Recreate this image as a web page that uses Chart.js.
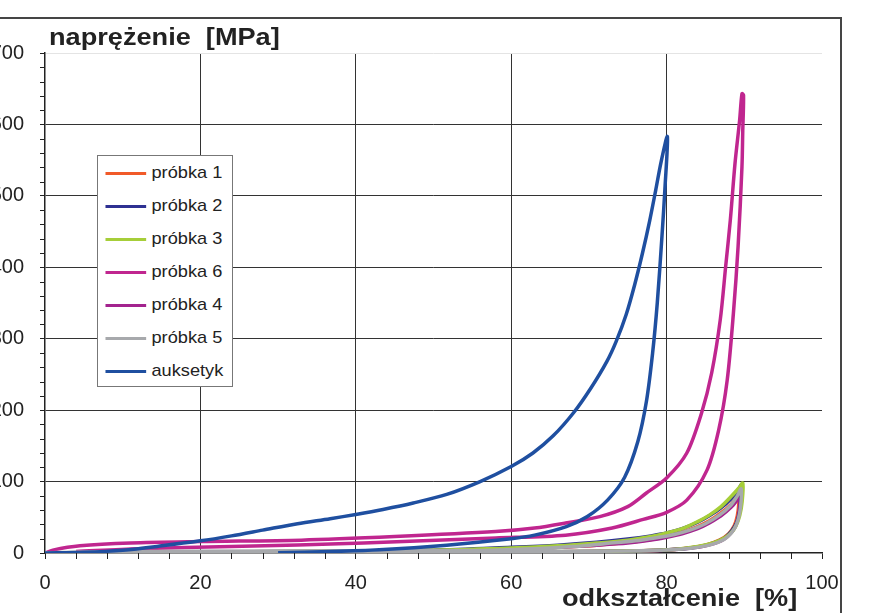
<!DOCTYPE html>
<html lang="pl">
<head>
<meta charset="UTF-8">
<title>naprężenie - odkształcenie</title>
<script src="https://cdn.jsdelivr.net/npm/chart.js@4.4.1/dist/chart.umd.min.js"></script>
<style>
    body {
        margin: 0;
        background: #fff;
        font-family: "Liberation Sans", Arial, sans-serif;
    }
    .wrap {
        position: relative;
        width: 890px;
        height: 613px;
        overflow: hidden;
    }
    .frame {
        position: absolute;
        left: -2px;
        top: 17px;
        width: 842px;
        height: 620px;
        border-top: 2px solid #454545;
        border-right: 2px solid #454545;
    }
    canvas { position: absolute; left: 0; top: 0; }
    .title {
        position: absolute;
        font-weight: bold;
        font-size: 23px;
        line-height: 1;
        color: #222;
        white-space: pre;
        transform: scaleX(1.18);
        transform-origin: left top;
    }
    .legend {
        position: absolute;
        left: 97px;
        top: 155px;
        width: 134px;
        height: 230px;
        border: 1px solid #777;
        background: #fff;
    }
    .legend div {
        position: absolute;
        left: 0;
        height: 20px;
        font-size: 17px;
        line-height: 20px;
        color: #222;
        white-space: nowrap;
        transform: scaleX(1.07);
        transform-origin: left center;
    }
    .legend span.sw {
        display: inline-block;
        width: 38px;
        height: 3px;
        margin: 0 5px 0 7px;
        vertical-align: middle;
    }
</style>
</head>
<body>
<div class="wrap">
    <div class="frame"></div>
    <canvas id="chart" width="890" height="613"></canvas>
    <div class="title" style="left:49px; top:26px;">naprężenie  [MPa]</div>
    <div class="title" style="left:562px; top:587px;">odkształcenie  [%]</div>
    <div class="legend" id="legend"></div>
</div>

<script>
// tick values
const xTicks = [0, 20, 40, 60, 80, 100];
const yTicks = [0, 100, 200, 300, 400, 500, 600, 700];

// series: [strain %, stress MPa], loading then unloading
const probka1 = [[0,0],[10,0.5],[30,1.5],[50,3],[60,5],[66,8],[71,11],[75,15],[78,19],[80,23],[82,29],[84,37],[85.5,45],
    [87,56],[88.3,68],[89,78],[89.3,85],[89.3,70],[89.1,52],[88.7,38],[88,27],[86.8,18],[85,11],[82,6],[78,3.5],[72,2],[60,1.5],[45,1],[30,0.5]];
const probka2 = [[0,0],[10,0.5],[30,2],[50,4],[60,8],[66,11],[71,15],[75,19.5],[78,24],[80,28],[82,34],[84,43],[85.5,52],
    [87,63],[88.3,76],[89.2,88],[89.6,95],[89.6,78],[89.4,58],[89,42],[88.3,30],[87.3,20],[85.5,12],[83,7],[79,4],[73,2.5],[60,1.5],[45,1],[30,0.5]];
const probka3 = [[0,0],[10,0.5],[30,2],[50,4],[60,7],[66,10],[71,14],[75,18],[78,23],[80,28],[82,34],[84,44],[85.5,53],
    [87,65],[88.3,79],[89.3,91],[89.8,98],[89.8,82],[89.6,62],[89.2,45],[88.6,32],[87.6,22],[86,14],[84,9],[81,5],[76,3],[70,2],[55,1.5],[40,1],[30,0.5]];
const probka6 = [[0,0],[1,4],[4.5,10],[11,14],[20,16],[33,18],[45,23],[58,30],[63,35],[67,42],[71.4,51],[75,65],[77.4,84],
    [80,105],[82.6,140],[84.5,196],[85.8,252],[86.9,326],[87.6,401],[88.2,466],[88.8,545],[89.4,606],[89.7,643],
    [89.9,641],[89.8,590],[89.7,541],[89.2,429],[88.6,336],[87.8,242],[86.7,172],[85.2,116],[82.6,74],[80,57],[77,47],
    [73,35],[67,25],[58,21],[41,14],[24,9],[12,6],[4,2]];
const probka4 = [[0,0],[10,0.5],[30,1.5],[50,3],[60,5],[66,8],[71,11],[75,14],[78,18],[80,22],[82,27],[84,34],[85.5,42],
    [87,52],[88.3,64],[89,73],[89.4,80],[89.4,66],[89.2,50],[88.8,36],[88.1,26],[87,17],[85,10],[82,5.5],[78,3],[72,2],[60,1.5],[45,1],[30,0.5]];
const probka5 = [[0,0],[5,1.5],[20,2.5],[40,3],[55,3.5],[63,6],[68,9],[72,13],[76,17],[79,22],[81,26],[83,32],[85,41],
    [86.8,53],[88.2,66],[89.1,80],[89.6,90],[89.6,75],[89.4,56],[89,40],[88.4,29],[87.4,19],[85.5,11],[82.5,6],[78,3.5],[70,2.5],[55,2],[40,1.5],[20,1]];
const auksetyk = [[0,0],[5,1],[10,4],[15,10],[20,17],[24,24],[28,32],[32.5,41],[36.7,48],[40,54],[43.5,61],[47.4,70],[51.7,82],
    [56,100],[60,121],[62.8,140],[65.4,164],[68,196],[70.2,230],[72.3,268],[73.5,296],[74.8,334],[75.9,376],[76.9,420],
    [77.8,464],[78.6,508],[79.3,548],[80.1,583],[79.8,513],[79.4,443],[78.8,350],[78.2,280],[77.4,212],[76.3,156],[74.6,106],
    [72.4,74],[69.8,51],[67.1,37],[63,25],[60,20],[51.7,11],[43,4.5],[36.7,2],[30,0.5]];

const seriesNames = ['próbka 1', 'próbka 2', 'próbka 3', 'próbka 6', 'próbka 4', 'próbka 5', 'auksetyk'];
const seriesData = [probka1, probka2, probka3, probka6, probka4, probka5, auksetyk];
const seriesColors = ['#f15a29', '#2e3192', '#a6ce39', '#c0268f', '#a3238e', '#a7a9ac', '#1f4fa0'];

// Chart.js paints the first dataset on top: auksetyk first, big magenta loop last
const drawOrder = [6, 5, 2, 1, 4, 0, 3];

const datasets = drawOrder.map(i => ({
    label: seriesNames[i],
    data: seriesData[i].map(p => ({ x: p[0], y: p[1] })),
    borderColor: seriesColors[i],
    backgroundColor: seriesColors[i],
    borderWidth: 3.5,
    pointRadius: 0,
    showLine: true,
    tension: 0.3,
    fill: false
}));

// html legend in the original order
const legend = document.getElementById('legend');
seriesNames.forEach((name, i) => {
    const row = document.createElement('div');
    row.style.top = (7 + i * 33) + 'px';
    row.innerHTML = '<span class="sw" style="background:' + seriesColors[i] + '"></span>' + name;
    legend.appendChild(row);
});

// minor tick marks on both axes
const minorTicks = {
    id: 'minorTicks',
    afterDraw(chart) {
        const { ctx, chartArea, scales } = chart;
        ctx.save();
        ctx.strokeStyle = '#222';
        ctx.lineWidth = 1;
        ctx.beginPath();
        for (let v = 4; v < 100; v += 4) {
            if (v % 20 === 0) continue;
            const px = Math.round(scales.x.getPixelForValue(v)) + 0.5;
            ctx.moveTo(px, chartArea.bottom);
            ctx.lineTo(px, chartArea.bottom + 6);
        }
        for (let v = 20; v < 700; v += 20) {
            if (v % 100 === 0) continue;
            const py = Math.round(scales.y.getPixelForValue(v)) + 0.5;
            ctx.moveTo(chartArea.left - 5, py);
            ctx.lineTo(chartArea.left, py);
        }
        ctx.stroke();
        ctx.restore();
    }
};

const tickFont = { family: '"Liberation Sans", Arial, sans-serif', size: 20 };

new Chart(document.getElementById('chart'), {
    type: 'scatter',
    data: { datasets: datasets },
    plugins: [minorTicks],
    options: {
        responsive: false,
        animation: false,
        layout: { padding: { top: 53, right: 68, left: 0, bottom: 0 } },
        plugins: {
            legend: { display: false },
            tooltip: { enabled: false }
        },
        scales: {
            x: {
                type: 'linear',
                min: 0,
                max: 100,
                afterBuildTicks: s => { s.ticks = xTicks.map(v => ({ value: v })); },
                afterFit: s => { s.height = 60; },
                ticks: { font: tickFont, color: '#222', padding: 12, maxRotation: 0 },
                border: { color: '#222', width: 1.5 },
                grid: {
                    color: c => (c.tick.value === 0 || c.tick.value === 100) ? 'rgba(0,0,0,0)' : '#333',
                    tickColor: '#222',
                    tickLength: 6,
                    lineWidth: 1
                }
            },
            y: {
                type: 'linear',
                min: 0,
                max: 700,
                afterBuildTicks: s => { s.ticks = yTicks.map(v => ({ value: v })); },
                afterFit: s => { s.width = 45; },
                ticks: { font: tickFont, color: '#222', padding: 16 },
                border: { color: '#222', width: 1.5 },
                grid: {
                    color: c => c.tick.value === 700 ? '#e4e4e4' : (c.tick.value === 0 ? 'rgba(0,0,0,0)' : '#333'),
                    tickColor: '#222',
                    tickLength: 5,
                    lineWidth: 1
                }
            }
        }
    }
});
</script>
</body>
</html>
